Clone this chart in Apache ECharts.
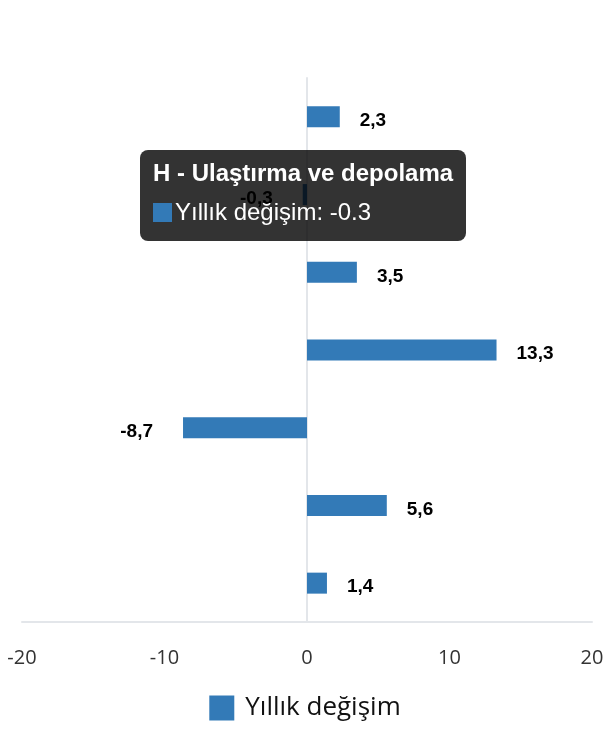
<!DOCTYPE html>
<html><head><meta charset="utf-8">
<script src="https://cdn.jsdelivr.net/npm/echarts@6/dist/echarts.min.js"></script>
<style>html,body{margin:0;padding:0;background:#fff}#c{width:610px;height:740px}</style>
</head><body><div id="c"></div>
<script>
var categories = [
  "G - Toptan ve perakende ticaret",
  "H - Ulaştırma ve depolama",
  "I - Konaklama ve yiyecek hizmeti faaliyetleri",
  "J - Bilgi ve iletişim",
  "L - Gayrimenkul faaliyetleri",
  "M - Mesleki, bilimsel ve teknik faaliyetler",
  "N - İdari ve destek hizmet faaliyetleri"
];
var seriesName = "Yıllık değişim";
var values = [2.3, -0.3, 3.5, 13.3, -8.7, 5.6, 1.4];
var xTicks = [-20, -10, 0, 10, 20];

var chart = echarts.init(document.getElementById('c'), null, {renderer: 'canvas'});
var color = '#337ab7';
chart.setOption({
  animation: false,
  grid: {left: 22, right: 18, top: 78, bottom: 118, containLabel: false},
  tooltip: {
    trigger: 'item',
    alwaysShowContent: true,
    transitionDuration: 0,
    position: [140, 150],
    backgroundColor: 'rgba(0,0,0,0.8)',
    borderWidth: 0,
    padding: [7, 13, 12, 13],
    extraCssText: 'border-radius:8px;box-shadow:none;',
    formatter: function (p) {
      return '<div style="font-family:\'Liberation Sans\',Arial,sans-serif;color:#fff;">' +
        '<div style="font-weight:bold;font-size:24px;line-height:31px;">' + p.name + '</div>' +
        '<div style="font-size:24px;line-height:35px;margin-top:6px;"><span style="display:inline-block;width:19px;height:19px;background:' + color + ';vertical-align:-2px;margin-right:3px;"></span>' +
        p.seriesName + ': ' + p.value + '</div></div>';
    }
  },
  legend: {
    bottom: 14, left: 'center',
    itemWidth: 25, itemHeight: 25, itemGap: 10,
    icon: 'rect',
    textStyle: {fontFamily: '"Open Sans", sans-serif', fontSize: 26, color: '#111', padding: [0, 0, 0, 6]},
    data: [seriesName]
  },
  xAxis: {
    type: 'value', min: xTicks[0], max: xTicks[xTicks.length - 1], interval: 10,
    axisLine: {show: true, lineStyle: {color: '#e3e6ea', width: 2}},
    axisTick: {show: false},
    splitLine: {show: false},
    axisLabel: {margin: 26, fontSize: 20, color: '#333', fontFamily: '"Open Sans", sans-serif'}
  },
  yAxis: {
    type: 'category', data: categories, inverse: true,
    axisLine: {show: true, onZero: true, lineStyle: {color: '#e3e6ea', width: 2}},
    axisTick: {show: false},
    axisLabel: {show: false},
    splitLine: {show: false}
  },
  series: [{
    name: seriesName, type: 'bar', data: values.map(function (v) {
      return v < 0 ? {value: v, label: {position: 'left', distance: 30}} : v;
    }), barWidth: 21,
    itemStyle: {color: color},
    label: {
      show: true, position: 'right', distance: 20,
      fontFamily: '"Liberation Sans", Arial, sans-serif', fontWeight: 'bold', fontSize: 19, color: '#000',
      formatter: function (p) { return String(p.value).replace('.', ','); }
    },
    labelLayout: function (p) { return {dy: 4}; }
  }]
});
chart.dispatchAction({type: 'showTip', seriesIndex: 0, dataIndex: 1});
</script></body></html>
